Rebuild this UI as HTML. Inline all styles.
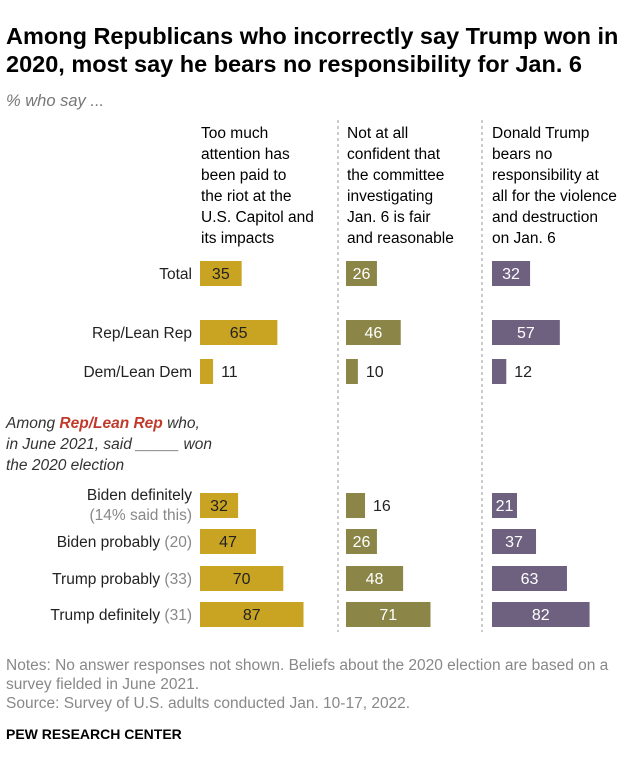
<!DOCTYPE html>
<html><head><meta charset="utf-8"><style>
body{margin:0;background:#fff;font-family:"Liberation Sans",sans-serif;}
#c{position:relative;width:640px;height:772px;overflow:hidden;}
.t{position:absolute;white-space:nowrap;}
</style></head><body>
<div id="c">
<div class="t" style="left:6px;top:22px;font-size:23.5px;font-weight:bold;line-height:28px;color:#000">Among Republicans who incorrectly say Trump won in<br>2020, most say he bears no responsibility for Jan. 6</div>
<div class="t" style="left:6px;top:92px;font-size:16.5px;font-style:italic;color:#777">% who say ...</div>
<div class="t" style="left:201px;top:123px;font-size:15.5px;line-height:21px;color:#000">Too much<br>attention has<br>been paid to<br>the riot at the<br>U.S. Capitol and<br>its impacts</div>
<div class="t" style="left:347px;top:123px;font-size:15.5px;line-height:21px;color:#000">Not at all<br>confident that<br>the committee<br>investigating<br>Jan. 6 is fair<br>and reasonable</div>
<div class="t" style="left:492px;top:123px;font-size:15.5px;line-height:21px;color:#000">Donald Trump<br>bears no<br>responsibility at<br>all for the violence<br>and destruction<br>on Jan. 6</div>
<div class="t" style="left:6px;top:413px;font-size:15.5px;font-style:italic;line-height:21px;color:#333">Among <b style="color:#c0392b">Rep/Lean Rep</b> who,<br>in June 2021, said _____ won<br>the 2020 election</div>
<div class="t" style="left:6px;top:656px;font-size:15.5px;line-height:19px;color:#888">Notes: No answer responses not shown. Beliefs about the 2020 election are based on a<br>survey fielded in June 2021.<br>Source: Survey of U.S. adults conducted Jan. 10-17, 2022.</div>
<div class="t" style="left:6px;top:726px;font-size:14px;font-weight:bold;color:#000">PEW RESEARCH CENTER</div>
<svg id="s" width="640" height="772" style="position:absolute;left:0;top:0">
<line x1="338" y1="120" x2="338" y2="632" stroke="#999" stroke-dasharray="3,3"/>
<line x1="482" y1="120" x2="482" y2="632" stroke="#999" stroke-dasharray="3,3"/>
</svg>
</div>
<script>
const categories=["Total","Rep/Lean Rep","Dem/Lean Dem","Biden definitely","Biden probably","Trump probably","Trump definitely"];
const subLabels=["","","","(14% said this)","(20)","(33)","(31)"];
const attention=[35,65,11,32,47,70,87];
const notConfident=[26,46,10,16,26,48,71];
const noResponsibility=[32,57,12,21,37,63,82];
const rowY=[273,332,371,505,541,578,614];
const series=[attention,notConfident,noResponsibility];
const colX=[200,346,492];
const colors=["#c9a422","#8b8647","#6e6180"];
const textCol=["#222","#fff","#fff"];
const names=["attention","not-confident","no-responsibility"];
const scale=v=>v*1.19;
const NS="http://www.w3.org/2000/svg";
const s=document.getElementById('s');
categories.forEach((c,i)=>{
  const y=rowY[i];
  const lab=document.createElement('div');
  lab.className='t';
  
  
  lab.style.cssText=`right:${640-192}px;top:${y-(i==3?19:8)}px;font-size:15.5px;text-align:right;color:#222;line-height:20px`;
  lab.innerHTML=i==3?c+'<br><span style="color:#888">'+subLabels[i]+'</span>':c+(subLabels[i]?' <span style="color:#888">'+subLabels[i]+'</span>':'');
  document.getElementById('c').appendChild(lab);
  series.forEach((arr,k)=>{
    const w=scale(arr[i]);
    const r=document.createElementNS(NS,'rect');
    
    
    r.setAttribute('x',colX[k]);r.setAttribute('y',y-12);
    r.setAttribute('width',w);r.setAttribute('height',25);
    r.setAttribute('fill',colors[k]);
    s.appendChild(r);
    const t=document.createElementNS(NS,'text');
    
    
    const inside=w>22;
    t.setAttribute('x',inside?colX[k]+w/2:colX[k]+w+8);
    t.setAttribute('y',y+6);
    t.setAttribute('text-anchor',inside?'middle':'start');
    t.setAttribute('font-size','16');
    t.setAttribute('fill',inside?textCol[k]:'#222');
    t.textContent=arr[i];
    s.appendChild(t);
  });
});
</script>
</body></html>
